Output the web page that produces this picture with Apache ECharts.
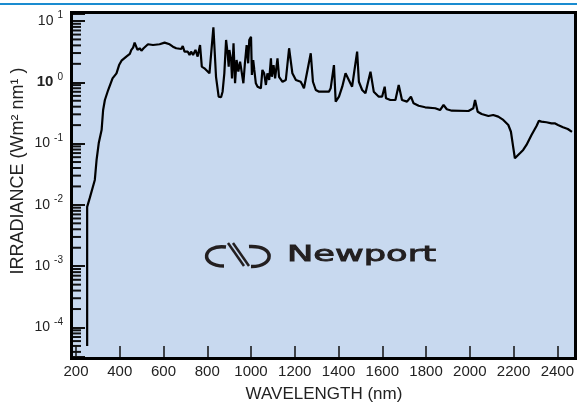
<!DOCTYPE html>
<html>
<head>
<meta charset="utf-8">
<script src="https://cdn.jsdelivr.net/npm/echarts@6/dist/echarts.min.js"></script>
<style>
  html, body { margin: 0; padding: 0; background: #fff; }
  #chart { width: 577px; height: 405px; }
</style>
</head>
<body>
<div id="chart"></div>
<script>
// spectrum
var wavelength = [
  251, 251, 263, 286, 294, 304, 317, 324, 332, 347, 367, 385, 397, 408, 430, 446, 453, 461, 468, 481,
  491, 499, 509, 529, 552, 582, 605, 613, 628, 643, 658, 681, 688, 696, 711, 719, 726, 735, 746, 756,
  767, 775, 787, 795, 810, 818, 828, 840, 852, 863, 870, 878, 886, 893, 898, 901, 909, 913, 920, 927,
  934, 942, 950, 957, 965, 972, 980, 987, 992, 1000, 1004, 1010, 1015, 1022, 1030, 1037, 1045, 1052, 1060, 1068,
  1075, 1083, 1091, 1095, 1103, 1110, 1121, 1128, 1144, 1159, 1174, 1189, 1205, 1227, 1235, 1242, 1250, 1273, 1283, 1296,
  1311, 1356, 1364, 1379, 1387, 1402, 1417, 1432, 1447, 1462, 1485, 1493, 1508, 1523, 1546, 1561, 1584, 1599, 1611, 1617,
  1637, 1660, 1675, 1690, 1713, 1731, 1743, 1766, 1796, 1842, 1864, 1880, 1895, 1918, 1994, 2016, 2024, 2036, 2054, 2085,
  2107, 2130, 2153, 2176, 2188, 2198, 2206, 2213, 2229, 2244, 2259, 2282, 2305, 2316, 2327, 2350, 2373, 2388, 2403, 2426,
  2448, 2467
];
var irradiance = [
  0.00005, 0.0093, 0.013, 0.0255, 0.054, 0.102, 0.166, 0.353, 0.514, 0.748, 1.16, 1.40, 1.91, 2.25, 2.62, 2.90, 3.37, 3.67, 4.43, 3.37,
  3.59, 3.28, 3.59, 4.17, 4.06, 4.17, 4.43, 4.17, 4.17, 3.81, 3.59, 3.49, 3.91, 3.16, 3.16, 2.79, 3.16, 2.79, 3.37, 2.62,
  4.06, 1.80, 1.69, 1.69, 1.40, 1.32, 7.89, 1.23, 0.582, 0.569, 0.703, 1.40, 4.90, 2.97, 1.80, 3.37, 2.31, 1.16, 4.33, 0.963,
  2.31, 1.49, 2.17, 1.49, 0.963, 2.04, 4.06, 2.04, 4.90, 5.55, 1.32, 2.31, 1.59, 0.963, 0.848, 0.904, 0.798, 1.59, 1.40, 0.904,
  1.40, 1.09, 2.46, 1.23, 1.91, 1.16, 2.46, 1.23, 1.02, 1.09, 3.59, 1.40, 1.09, 1.02, 0.904, 0.798, 0.748, 2.97, 1.02, 0.748,
  0.703, 0.703, 0.798, 1.91, 0.483, 0.582, 0.848, 1.40, 1.09, 0.848, 3.16, 1.02, 0.748, 0.662, 1.49, 0.703, 0.582, 0.582, 0.848, 0.548,
  0.514, 0.514, 0.904, 0.514, 0.483, 0.582, 0.454, 0.415, 0.391, 0.377, 0.353, 0.426, 0.363, 0.344, 0.340, 0.377, 0.514, 0.331, 0.304, 0.282,
  0.293, 0.275, 0.243, 0.201, 0.156, 0.089, 0.0576, 0.0576, 0.0695, 0.0787, 0.0949, 0.138, 0.194, 0.236, 0.228, 0.223, 0.214, 0.214, 0.201, 0.185,
  0.173, 0.155
];
var xTickLabels = [200, 400, 600, 800, 1000, 1200, 1400, 1600, 1800, 2000, 2200, 2400];

var FONT = '"Liberation Sans", Arial, sans-serif';
var xMin = 200, xMax = 2467;
var yMin = 3.3e-5, yMax = 13;

var lineData = wavelength.map(function (w, i) { return [w, irradiance[i]]; });

// minor log ticks on the left edge
var minorTicks = [];
for (var d = -5; d <= 1; d++) {
  for (var m = 2; m <= 9; m++) {
    var v = m * Math.pow(10, d);
    if (v > yMin && v < yMax) minorTicks.push([xMin, v]);
  }
}

var chart = echarts.init(document.getElementById('chart'));
var option = {
  animation: false,
  backgroundColor: '#fff',
  grid: { left: 76, right: 3, top: 14, bottom: 48 },
  xAxis: {
    type: 'value',
    min: xMin,
    max: xMax,
    interval: 200,
    axisLine: { show: false },
    splitLine: { show: false },
    axisTick: { inside: true, length: 11, lineStyle: { color: '#111', width: 1.5 } },
    axisLabel: {
      margin: 7,
      fontSize: 15,
      fontFamily: FONT,
      color: '#222',
      showMaxLabel: false,
      formatter: function (v) { return xTickLabels.indexOf(v) >= 0 ? String(v) : ''; }
    }
  },
  yAxis: {
    type: 'log',
    logBase: 10,
    min: yMin,
    max: yMax,
    offset: 3,
    axisLine: { show: false },
    splitLine: { show: false },
    axisTick: { inside: true, length: 12, lineStyle: { color: '#111', width: 2 } },
    axisLabel: {
      margin: 10,
      formatter: function (v) {
        var e = Math.log10(v), r = Math.round(e);
        if (Math.abs(e - r) > 1e-6) return '';
        return (r === 0 ? '{bb|10}' : '{b|10}') + '{s|' + r + '}';
      },
      rich: {
        b: { fontSize: 14, fontFamily: FONT, color: '#222' },
        bb: { fontSize: 15, fontFamily: FONT, fontWeight: 'bold', color: '#222' },
        s: { fontSize: 10, fontFamily: FONT, color: '#222', padding: [0, 0, 11, 4] }
      }
    }
  },
  graphic: [
    { type: 'line', shape: { x1: 0, y1: 4, x2: 577, y2: 4 }, style: { stroke: '#1a8cd0', lineWidth: 2 } },
    { type: 'rect', z: -10, shape: { x: 71.5, y: 12.5, width: 504, height: 346 }, style: { fill: '#c8d9ef' } },
    { type: 'rect', z: 100, shape: { x: 71.5, y: 12.5, width: 504, height: 346 }, style: { fill: 'none', stroke: '#000', lineWidth: 3 } },
    {
      type: 'text', x: 18, y: 171, rotation: Math.PI / 2,
      style: { text: 'IRRADIANCE (Wm\u00b2 nm\u00b9 )', font: '18px ' + FONT, fill: '#222', align: 'center', verticalAlign: 'middle' }
    },
    {
      type: 'text', x: 324, y: 394,
      style: { text: 'WAVELENGTH (nm)', font: '17px ' + FONT, fill: '#222', align: 'center', verticalAlign: 'middle' }
    },
    // Newport logo
    { type: 'bezierCurve', shape: { x1: 226, y1: 247, cpx1: 202, cpy1: 244, cpx2: 199, cpy2: 266, x2: 224, y2: 266 }, style: { fill: 'none', stroke: '#231f20', lineWidth: 3.5 } },
    { type: 'bezierCurve', shape: { x1: 249, y1: 246.5, cpx1: 276, cpy1: 245, cpx2: 275, cpy2: 267, x2: 251, y2: 266.5 }, style: { fill: 'none', stroke: '#231f20', lineWidth: 3.5 } },
    { type: 'line', shape: { x1: 228, y1: 243, x2: 244, y2: 266 }, style: { stroke: '#231f20', lineWidth: 2.5 } },
    { type: 'line', shape: { x1: 233, y1: 243, x2: 249, y2: 266 }, style: { stroke: '#231f20', lineWidth: 2.5 } },
    {
      type: 'text', x: 287, y: 255, scaleX: 1.6,
      style: { text: 'Newport', font: '22px "DejaVu Sans"', fill: '#231f20', stroke: '#231f20', lineWidth: 0.9, align: 'left', verticalAlign: 'middle' }
    }
  ],
  series: [
    {
      type: 'line',
      data: lineData,
      showSymbol: false,
      smooth: false,
      lineStyle: { color: '#000', width: 2.2 },
      z: 5
    },
    {
      type: 'custom',
      silent: true,
      data: minorTicks,
      renderItem: function (params, api) {
        var p = api.coord([api.value(0), api.value(1)]);
        var x0 = params.coordSys.x - 3;
        return {
          type: 'line',
          shape: { x1: x0, y1: p[1], x2: x0 + 8, y2: p[1] },
          style: { stroke: '#111', lineWidth: 2 }
        };
      }
    }
  ]
};
chart.setOption(option);
window.addEventListener('resize', function () { chart.resize(); });
</script>
</body>
</html>
